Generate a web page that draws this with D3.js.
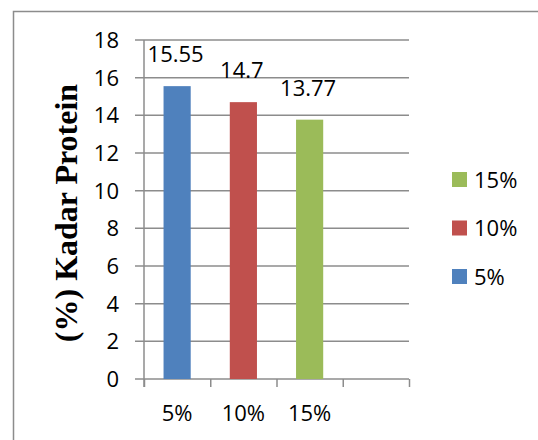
<!DOCTYPE html>
<html>
<head>
<meta charset="utf-8">
<script src="https://cdn.jsdelivr.net/npm/d3@7"></script>
<style>
  html, body { margin: 0; padding: 0; background: #fff; }
  svg { display: block; }
</style>
</head>
<body>
<svg id="chart" width="538" height="440"></svg>
<script>
// ---- data ----
const categories = ["5%", "10%", "15%", ""];
const values = [15.55, 14.7, 13.77];
const seriesNames = ["5%", "10%", "15%"];
const seriesColors = ["#4F81BD", "#C0504D", "#9BBB59"];
const yTicks = [0, 2, 4, 6, 8, 10, 12, 14, 16, 18];
const yTitle = "(%) Kadar Protein";

// ---- layout ----
const svg = d3.select("#chart");
const plot = { left: 144, right: 409, top: 40, bottom: 379 };
const gridColor = "#8c8c8c";
const sansFont = "'Open Sans', 'Liberation Sans', sans-serif";

// outer border (extends past right/bottom edges)
svg.append("rect")
  .attr("x", 13.5).attr("y", 11.5)
  .attr("width", 600).attr("height", 500)
  .attr("fill", "#fff")
  .attr("stroke", gridColor).attr("stroke-width", 1.5);

const x = d3.scaleBand().domain(categories).range([plot.left, plot.right]).padding(0);
const y = d3.scaleLinear().domain([0, 18]).range([plot.bottom, plot.top]);

// gridlines + y tick marks
svg.append("g").selectAll("line").data(yTicks).join("line")
  .attr("x1", plot.left - 9).attr("x2", plot.right)
  .attr("y1", d => y(d)).attr("y2", d => y(d))
  .attr("stroke", gridColor).attr("stroke-width", 1.5);

// y axis line
svg.append("line")
  .attr("x1", plot.left).attr("x2", plot.left)
  .attr("y1", plot.top).attr("y2", plot.bottom + 8)
  .attr("stroke", gridColor).attr("stroke-width", 1.5);

// x axis via d3 axis (ticks at band boundaries)
const xBoundaries = categories.map(c => x(c)).concat([plot.right]);
const xAxis = svg.append("g")
  .attr("transform", `translate(0,${plot.bottom})`)
  .call(d3.axisBottom(d3.scaleLinear().domain([plot.left, plot.right]).range([plot.left, plot.right]))
    .tickValues(xBoundaries).tickSize(8).tickFormat(""));
xAxis.select(".domain").remove();
xAxis.selectAll("line").attr("stroke", gridColor).attr("stroke-width", 1.5);

// y tick labels
svg.append("g").selectAll("text").data(yTicks).join("text")
  .attr("x", 119).attr("y", d => y(d))
  .attr("dy", "0.36em")
  .attr("text-anchor", "end")
  .attr("font-family", sansFont).attr("font-size", 22)
  .attr("fill", "#000")
  .text(d => d);

// bars
const barW = x.bandwidth() * 0.41;
svg.append("g").selectAll("rect").data(values).join("rect")
  .attr("x", (d, i) => x(categories[i]) + x.bandwidth() / 2 - barW / 2)
  .attr("y", d => y(d))
  .attr("width", barW)
  .attr("height", d => y(0) - y(d))
  .attr("fill", (d, i) => seriesColors[i]);

// value labels
svg.append("g").selectAll("text").data(values).join("text")
  .attr("x", (d, i) => x(categories[i]) + x.bandwidth() / 2 - 1.5)
  .attr("y", d => y(d) - 24)
  .attr("text-anchor", "middle")
  .attr("font-family", sansFont).attr("font-size", 22)
  .attr("fill", "#000")
  .text(d => d);

// x category labels
svg.append("g").selectAll("text").data(categories.filter(c => c !== "")).join("text")
  .attr("x", d => x(d) + x.bandwidth() / 2)
  .attr("y", 421)
  .attr("text-anchor", "middle")
  .attr("font-family", sansFont).attr("font-size", 22)
  .attr("fill", "#000")
  .text(d => d);

// y title
svg.append("text")
  .attr("transform", "translate(77,213) rotate(-90)")
  .attr("text-anchor", "middle")
  .attr("font-family", "'Liberation Serif', 'Times New Roman', serif")
  .attr("font-weight", "bold").attr("font-size", 32)
  .attr("fill", "#000")
  .text(yTitle);

// legend (reverse order)
const legendItems = seriesNames.map((n, i) => ({ name: n, color: seriesColors[i] })).reverse();
const lg = svg.append("g").selectAll("g").data(legendItems).join("g")
  .attr("transform", (d, i) => `translate(452,${172 + i * 48.5})`);
lg.append("rect").attr("width", 15).attr("height", 15).attr("fill", d => d.color);
lg.append("text")
  .attr("x", 22).attr("y", 15.5)
  .attr("font-family", sansFont).attr("font-size", 22)
  .attr("fill", "#000")
  .text(d => d.name);
</script>
</body>
</html>
